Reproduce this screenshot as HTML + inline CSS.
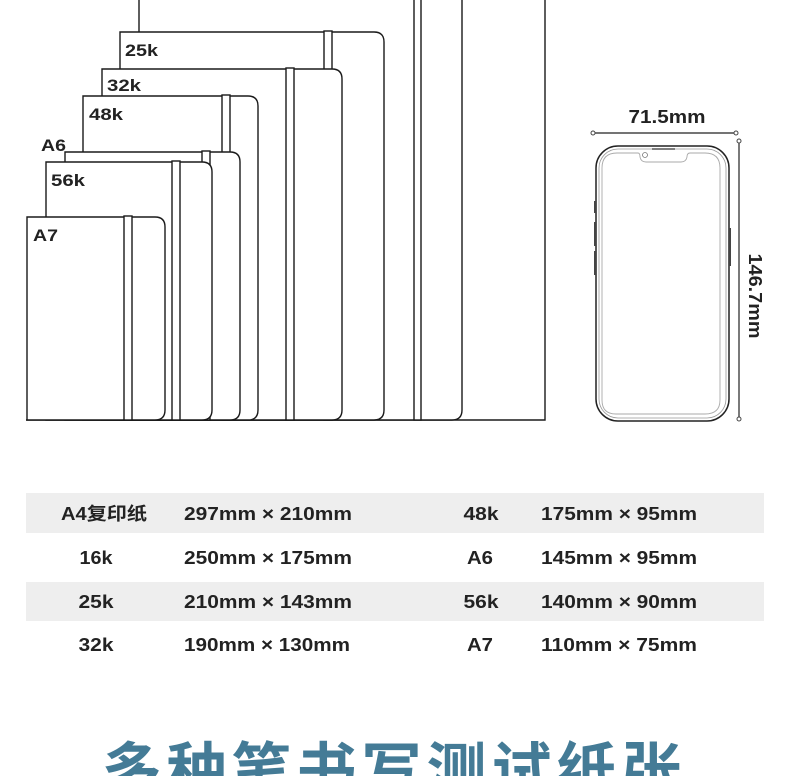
<!DOCTYPE html>
<html><head><meta charset="utf-8"><style>
html,body{margin:0;padding:0;background:#fff;}
body{width:790px;height:776px;overflow:hidden;position:relative;}
svg{position:absolute;left:0;top:0;}
</style></head><body>
<svg width="790" height="776" viewBox="0 0 790 776" xmlns="http://www.w3.org/2000/svg" font-family="'Liberation Sans','Noto Sans CJK SC',sans-serif">
<g fill="#fff" stroke="#1a1a1a" stroke-width="1.4">
<path d="M545,-5 V420 H26"/>
<path d="M139,-5 V420 H452 Q462,420 462,410 V-5"/>
<rect x="414" y="-5" width="7" height="425"/>
<path d="M120,420 V32 H374 Q384,32 384,42 V410 Q384,420 374,420 Z"/>
<rect x="324" y="31" width="8" height="389"/>
<path d="M102,420 V69 H332 Q342,69 342,79 V410 Q342,420 332,420 Z"/>
<rect x="286" y="68" width="8" height="352"/>
<path d="M83,420 V96 H248 Q258,96 258,106 V410 Q258,420 248,420 Z"/>
<rect x="222" y="95" width="8" height="325"/>
<path d="M65,420 V152 H230 Q240,152 240,162 V410 Q240,420 230,420 Z"/>
<rect x="202" y="151" width="8" height="269"/>
<path d="M46,420 V162 H202 Q212,162 212,172 V410 Q212,420 202,420 Z"/>
<rect x="172" y="161" width="8" height="259"/>
<path d="M27,420 V217 H155 Q165,217 165,227 V410 Q165,420 155,420 Z"/>
<rect x="124" y="216" width="8" height="204"/>
</g>
<g font-weight="bold" font-size="17" fill="#222" lengthAdjust="spacingAndGlyphs">
<text x="125" y="56" textLength="33" lengthAdjust="spacingAndGlyphs">25k</text>
<text x="107" y="91" textLength="34" lengthAdjust="spacingAndGlyphs">32k</text>
<text x="89" y="120" textLength="34" lengthAdjust="spacingAndGlyphs">48k</text>
<text x="41" y="151" textLength="25" lengthAdjust="spacingAndGlyphs">A6</text>
<text x="51" y="186" textLength="34" lengthAdjust="spacingAndGlyphs">56k</text>
<text x="33" y="241" textLength="25" lengthAdjust="spacingAndGlyphs">A7</text>
</g>
<g fill="none">
<line x1="593" y1="133" x2="736" y2="133" stroke="#222" stroke-width="1.2"/>
<circle cx="593" cy="133" r="2" fill="#fff" stroke="#444"/>
<circle cx="736" cy="133" r="2" fill="#fff" stroke="#444"/>
<line x1="739" y1="141" x2="739" y2="419" stroke="#222" stroke-width="1.2"/>
<circle cx="739" cy="141" r="2" fill="#fff" stroke="#444"/>
<circle cx="739" cy="419" r="2" fill="#fff" stroke="#444"/>
<rect x="596" y="146" width="133" height="275" rx="22" stroke="#222" stroke-width="1.5"/>
<rect x="599" y="149" width="127" height="269" rx="19" stroke="#999" stroke-width="0.8"/>
<path d="M621,153 H638 Q640,153 640,157 Q641,162 646,162 H681 Q686,162 687,157 Q687,153 690,153 H705 Q720,153 720,168 V400 Q720,414 705,414 H616 Q602,414 602,400 V168 Q602,153 617,153 Z" stroke="#aaa" stroke-width="0.9"/>
<line x1="652" y1="149" x2="675" y2="149" stroke="#555" stroke-width="1.5"/>
<circle cx="645" cy="155" r="2.5" stroke="#777" stroke-width="0.8"/>
<rect x="594" y="201" width="2" height="12" fill="#444"/>
<rect x="594" y="222" width="2" height="24" fill="#444"/>
<rect x="594" y="251" width="2" height="24" fill="#444"/>
<rect x="729" y="228" width="2" height="38" fill="#444"/>
</g>
<text x="667" y="123" font-size="18" font-weight="bold" fill="#222" text-anchor="middle" textLength="77" lengthAdjust="spacingAndGlyphs">71.5mm</text>
<text transform="translate(749,296) rotate(90)" font-size="18" font-weight="bold" fill="#222" text-anchor="middle" textLength="85" lengthAdjust="spacingAndGlyphs">146.7mm</text>
<rect x="26" y="493" width="738" height="40" fill="#eeeeee"/>
<rect x="26" y="582" width="738" height="39" fill="#eeeeee"/>
<g font-size="18" font-weight="bold" fill="#222">
<text x="104" y="520" text-anchor="middle" textLength="86" lengthAdjust="spacingAndGlyphs">A4复印纸</text>
<text x="96" y="564" text-anchor="middle" textLength="33" lengthAdjust="spacingAndGlyphs">16k</text>
<text x="96" y="608" text-anchor="middle" textLength="35" lengthAdjust="spacingAndGlyphs">25k</text>
<text x="96" y="651" text-anchor="middle" textLength="35" lengthAdjust="spacingAndGlyphs">32k</text>
<text x="184" y="520" textLength="168" lengthAdjust="spacingAndGlyphs">297mm × 210mm</text>
<text x="184" y="564" textLength="168" lengthAdjust="spacingAndGlyphs">250mm × 175mm</text>
<text x="184" y="608" textLength="168" lengthAdjust="spacingAndGlyphs">210mm × 143mm</text>
<text x="184" y="651" textLength="166" lengthAdjust="spacingAndGlyphs">190mm × 130mm</text>
<text x="481" y="520" text-anchor="middle" textLength="35" lengthAdjust="spacingAndGlyphs">48k</text>
<text x="480" y="564" text-anchor="middle" textLength="26" lengthAdjust="spacingAndGlyphs">A6</text>
<text x="481" y="608" text-anchor="middle" textLength="35" lengthAdjust="spacingAndGlyphs">56k</text>
<text x="480" y="651" text-anchor="middle" textLength="26" lengthAdjust="spacingAndGlyphs">A7</text>
<text x="541" y="520" textLength="156" lengthAdjust="spacingAndGlyphs">175mm × 95mm</text>
<text x="541" y="564" textLength="156" lengthAdjust="spacingAndGlyphs">145mm × 95mm</text>
<text x="541" y="608" textLength="156" lengthAdjust="spacingAndGlyphs">140mm × 90mm</text>
<text x="541" y="651" textLength="156" lengthAdjust="spacingAndGlyphs">110mm × 75mm</text>
</g>
<text x="394" y="792" text-anchor="middle" font-size="60" font-weight="bold" fill="#447b96" letter-spacing="5" font-family="'Noto Sans CJK SC','WenQuanYi Zen Hei',sans-serif">多种笔书写测试纸张</text>
</svg>
</body></html>
